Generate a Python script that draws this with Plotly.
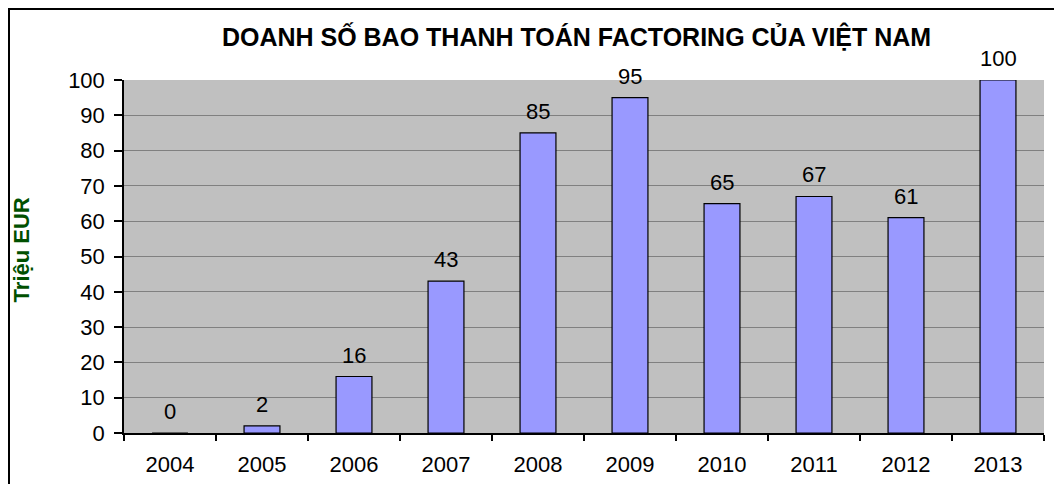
import plotly.graph_objects as go

years = ["2004", "2005", "2006", "2007", "2008", "2009", "2010", "2011", "2012", "2013"]
sales = [0, 2, 16, 43, 85, 95, 65, 67, 61, 100]

title_text = "DOANH SỐ BAO THANH TOÁN FACTORING CỦA VIỆT NAM"
y_title = "Triệu EUR"

FONT = "Liberation Sans, Arial, sans-serif"

fig = go.Figure()
fig.add_trace(go.Bar(
    x=years,
    y=sales,
    width=0.39,
    marker=dict(color="#9999FF", line=dict(color="#000000", width=1.2)),
    hoverinfo="x+y",
))

# value labels above each bar (x given as category index)
for i, v in enumerate(sales):
    fig.add_annotation(
        x=i, y=v, text=str(v), showarrow=False,
        yanchor="bottom", yshift=7,
        font=dict(family=FONT, size=22, color="#000000"),
    )

# vertical axis title, placed on the paper
fig.add_annotation(
    xref="paper", yref="paper", x=-0.112, y=0.52,
    text="<b>" + y_title + "</b>", textangle=-90, showarrow=False,
    xanchor="center", yanchor="middle",
    font=dict(family=FONT, size=22, color="#005000"),
)

# outer chart frame
fig.add_shape(
    type="rect", xref="paper", yref="paper",
    x0=-0.125, x1=1.2, y0=-0.5, y1=1.2011,
    line=dict(color="#000000", width=2), fillcolor="rgba(0,0,0,0)",
    layer="below",
)

fig.update_layout(
    width=1054, height=484,
    margin=dict(l=124, r=10, t=80, b=51, autoexpand=False),
    paper_bgcolor="#FFFFFF",
    plot_bgcolor="#C0C0C0",
    showlegend=False,
    title=dict(
        text="<b>" + title_text + "</b>",
        x=0.547, xanchor="center", y=0.923, yanchor="middle",
        font=dict(family=FONT, size=25, color="#000000"),
    ),
    xaxis=dict(
        type="category",
        categoryorder="array", categoryarray=years,
        range=[-0.5, len(years) - 0.5],
        showgrid=False,
        showline=True, linecolor="#000000", linewidth=1.5,
        ticks="outside", ticklen=6, tickcolor="#000000", tickwidth=1.5,
        tickson="boundaries", tickangle=0, ticklabelstandoff=11,
        tickfont=dict(family=FONT, size=22, color="#000000"),
        fixedrange=True,
    ),
    yaxis=dict(
        range=[0, 100], dtick=10,
        showgrid=True, gridcolor="#808080", gridwidth=1,
        zeroline=False,
        showline=True, linecolor="#000000", linewidth=1.5,
        ticks="outside", ticklen=8, tickcolor="#000000", tickwidth=1.5,
        ticklabelstandoff=5,
        tickfont=dict(family=FONT, size=22, color="#000000"),
        fixedrange=True,
    ),
)

fig.write_html("out.html")
